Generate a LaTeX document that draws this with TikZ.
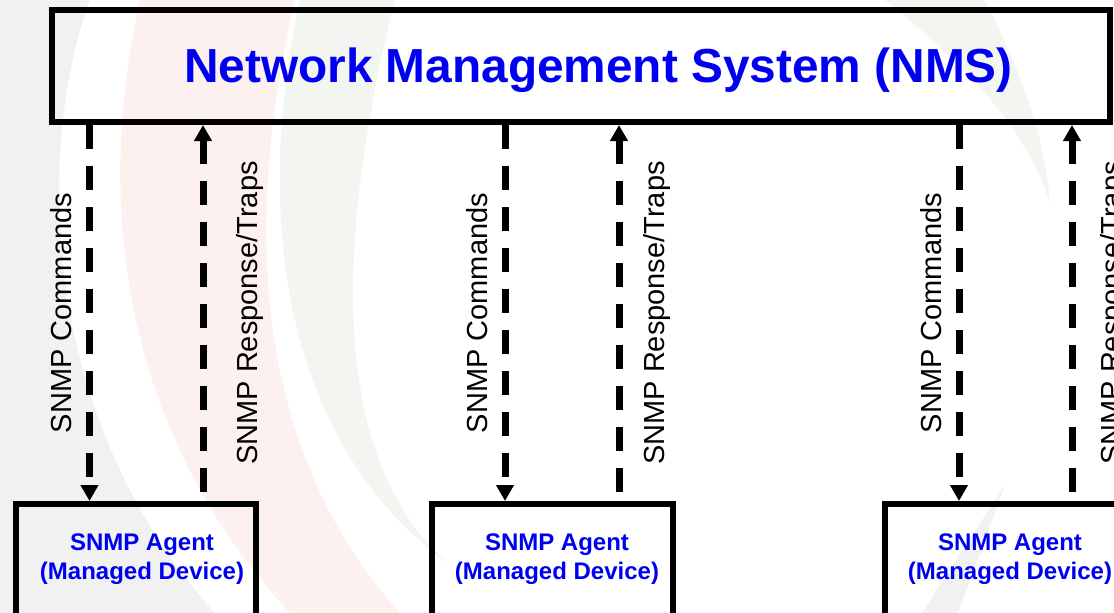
\documentclass[tikz,border=0pt]{standalone}
\usepackage{fontspec}
\setmainfont{Liberation Sans}
\usetikzlibrary{arrows.meta}
\definecolor{wmgrey}{HTML}{F1F1F1}
\definecolor{wmpink}{HTML}{FCF1EE}
\definecolor{wmgreen}{HTML}{F2F5F0}
\definecolor{nmsblue}{HTML}{0000F0}

\begin{document}
\begin{tikzpicture}[x=1pt,y=-1pt,
	nmsbox/.style={rectangle, draw, line width=6pt, minimum width=1058pt, minimum height=112pt, inner sep=0pt},
	agentbox/.style={rectangle, draw, line width=6pt, minimum width=240.5pt, minimum height=200pt, inner sep=0pt, anchor=north},
	titletext/.style={text=nmsblue, font=\fontsize{47.8}{57}\selectfont\bfseries, inner sep=0pt, anchor=base},
	agenttext/.style={text=nmsblue, font=\fontsize{24}{28.5}\selectfont\bfseries, align=center, inner sep=0pt},
	cmdline/.style={line width=7pt, dash pattern=on 24pt off 17pt, -{Triangle[length=16pt,width=17pt]}},
	respline/.style={line width=7pt, dash pattern=on 24pt off 17pt, {Triangle[length=16pt,width=17pt]}-},
	cmdlabel/.style={midway, rotate=90, anchor=south, inner xsep=0pt, inner ysep=14pt, font=\fontsize{29}{34}\selectfont},
	resplabel/.style={midway, rotate=90, anchor=north, inner xsep=0pt, font=\fontsize{29}{34}\selectfont}]
\clip (0,0) rectangle (1114,613);

% faint logo in the background
\fill[wmgrey] (0,0) -- (90,0) .. controls (35,150) and (40,420) .. (215,613) -- (0,613) -- cycle;
\fill[wmpink] (140,0) .. controls (95,200) and (120,430) .. (290,613) -- (400,613) .. controls (280,480) and (230,280) .. (295,0) -- cycle;
\fill[wmgreen] (300,0) .. controls (250,230) and (290,450) .. (450,565) .. controls (350,480) and (320,300) .. (395,0) -- cycle;
\fill[wmgreen] (885,0) .. controls (960,60) and (1030,130) .. (1050,205) .. controls (1045,130) and (1015,60) .. (985,0) -- cycle;
\fill[wmgrey] (1005,485) -- (922,613) -- (958,613) -- cycle;

\node [nmsbox] (nms) at (581,66) {};
\node [titletext] (title) at (598.5,82) {Network Management System (NMS)};

\node [agentbox] (agent1) at (136,501) {};
\node [agentbox] (agent2) at (552.5,501) {};
\node [agentbox] (agent3) at (1005,501) {};
\node [agenttext] (agent1txt) at (142,559) {SNMP Agent\\(Managed Device)};
\node [agenttext] (agent2txt) at (557,559) {SNMP Agent\\(Managed Device)};
\node [agenttext] (agent3txt) at (1010,559) {SNMP Agent\\(Managed Device)};

\coordinate (c1) at (89.5,0);
\coordinate (r1) at (203,0);
\coordinate (c2) at (505,0);
\coordinate (r2) at (619,0);
\coordinate (c3) at (959,0);
\coordinate (r3) at (1072,0);

\draw [cmdline] (c1 |- nms.south) -- (c1 |- agent1.north) node[cmdlabel] {SNMP Commands};
\draw [respline] (r1 |- nms.south) -- (r1 |- agent1.north) node[resplabel, inner ysep=30pt] {SNMP Response/Traps};
\draw [cmdline] (c2 |- nms.south) -- (c2 |- agent2.north) node[cmdlabel] {SNMP Commands};
\draw [respline] (r2 |- nms.south) -- (r2 |- agent2.north) node[resplabel, inner ysep=21pt] {SNMP Response/Traps};
\draw [cmdline] (c3 |- nms.south) -- (c3 |- agent3.north) node[cmdlabel] {SNMP Commands};
\draw [respline] (r3 |- nms.south) -- (r3 |- agent3.north) node[resplabel, inner ysep=25pt] {SNMP Response/Traps};
\end{tikzpicture}
\end{document}
